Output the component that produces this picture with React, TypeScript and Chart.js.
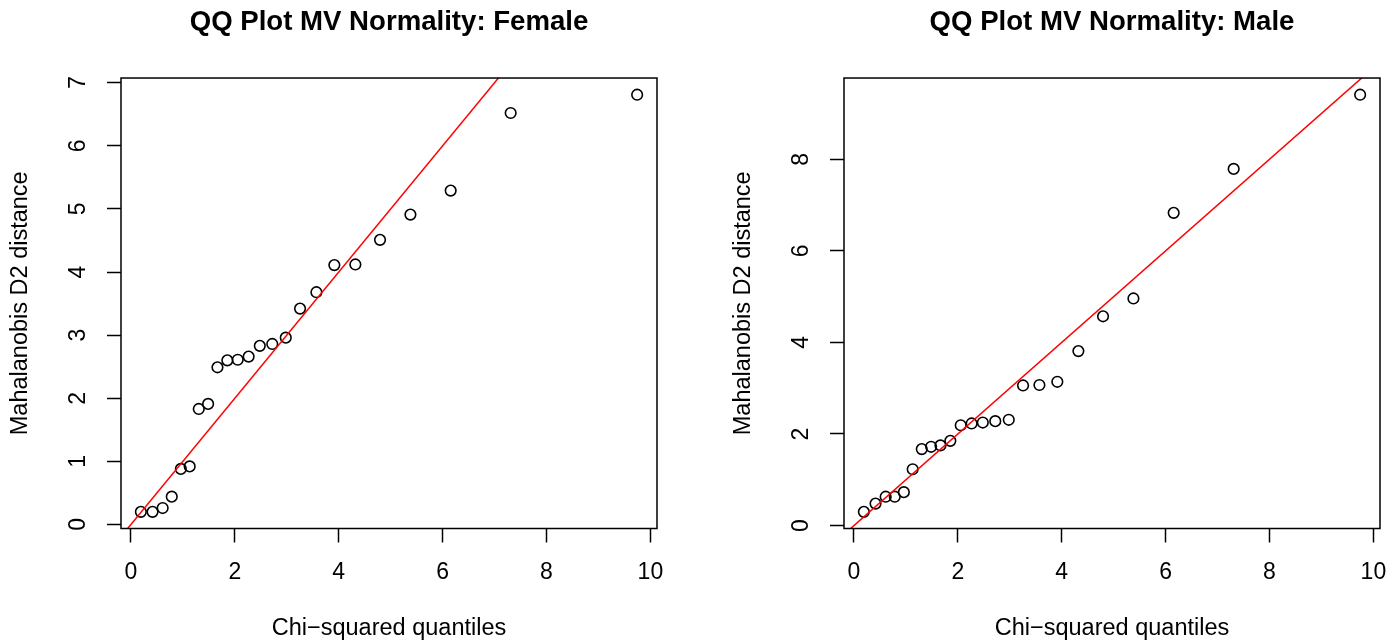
import { useEffect, useRef } from "react";
import { Chart, registerables } from "chart.js";

Chart.register(...registerables);

// Chi-squared quantiles (shared x values, 24 observations)
const chiSqQuantiles = [
  0.19, 0.415, 0.61, 0.785, 0.96, 1.13, 1.305, 1.485, 1.665, 1.855, 2.055, 2.265,
  2.48, 2.72, 2.98, 3.255, 3.57, 3.915, 4.32, 4.795, 5.38, 6.155, 7.31, 9.745,
];

// Sorted Mahalanobis D2 distances
const femaleD2 = [
  0.2, 0.2, 0.26, 0.44, 0.88, 0.92, 1.83, 1.91, 2.49, 2.6, 2.61, 2.66,
  2.83, 2.86, 2.96, 3.42, 3.68, 4.11, 4.12, 4.51, 4.91, 5.29, 6.52, 6.81,
];
const maleD2 = [
  0.3, 0.48, 0.63, 0.63, 0.73, 1.23, 1.67, 1.72, 1.75, 1.85, 2.19, 2.23,
  2.25, 2.28, 2.31, 3.06, 3.07, 3.14, 3.81, 4.57, 4.96, 6.83, 7.79, 9.41,
];

// Reference line y = a + b x (abline(0, 1))
const refIntercept = 0;
const refSlope = 1;
const refLineX = [-1, 12];

const panelTitles = ["QQ Plot MV Normality: Female", "QQ Plot MV Normality: Male"];
const xAxisTitle = "Chi\u2212squared quantiles";
const yAxisTitle = "Mahalanobis D2 distance";
const xTickStep = 2;
const yTickSteps = [1, 2];

const FONT = "'Liberation Sans', Arial, Helvetica, sans-serif";

function rRange(vals: number[]): [number, number] {
  const lo = Math.min(...vals);
  const hi = Math.max(...vals);
  const pad = (hi - lo) * 0.04;
  return [lo - pad, hi + pad];
}

const boxPlugin = {
  id: "rbox",
  afterDraw(chart: any) {
    const { ctx, chartArea: a } = chart;
    ctx.save();
    ctx.strokeStyle = "#000";
    ctx.lineWidth = 1.5;
    ctx.strokeRect(a.left, a.top, a.right - a.left, a.bottom - a.top);
    ctx.restore();
  },
};

function makeConfig(title: string, xs: number[], ys: number[], yStep: number): any {
  const [xmin, xmax] = rRange(xs);
  const [ymin, ymax] = rRange(ys);
  return {
    type: "scatter",
    data: {
      datasets: [
        {
          type: "scatter",
          data: xs.map((x, i) => ({ x, y: ys[i] })),
          pointRadius: 5.3,
          pointHoverRadius: 5.3,
          pointBorderWidth: 1.6,
          borderWidth: 1.6,
          borderColor: "#000",
          backgroundColor: "rgba(0,0,0,0)",
          order: 2,
        },
        {
          type: "line",
          data: refLineX.map((x) => ({ x, y: refIntercept + refSlope * x })),
          borderColor: "#ff0000",
          borderWidth: 1.5,
          pointRadius: 0,
          fill: false,
          tension: 0,
          order: 1,
        },
      ],
    },
    options: {
      animation: false,
      responsive: false,
      events: [],
      layout: { padding: { left: 0, right: 15, top: 0, bottom: 0 } },
      plugins: {
        legend: { display: false },
        tooltip: { enabled: false },
        title: {
          display: true,
          text: title,
          fullSize: false,
          color: "#000",
          font: { family: FONT, size: 27.6, weight: "bold", lineHeight: 1.2 },
          padding: { top: 5.6, bottom: 39.3 },
        },
      },
      scales: {
        x: {
          type: "linear",
          position: "bottom",
          min: xmin,
          max: xmax,
          afterFit: (s: any) => {
            s.height = 113.5;
            s.paddingLeft = 0;
            s.paddingRight = 0;
          },
          border: { display: false },
          grid: {
            display: true,
            drawOnChartArea: false,
            drawTicks: true,
            tickLength: 14,
            tickWidth: 1.5,
            tickColor: "#000",
          },
          ticks: {
            stepSize: xTickStep,
            includeBounds: false,
            autoSkip: false,
            maxRotation: 0,
            color: "#000",
            font: { family: FONT, size: 23, lineHeight: 1.2 },
            padding: 16.2,
          },
          title: {
            display: true,
            text: xAxisTitle,
            color: "#000",
            font: { family: FONT, size: 23.5, lineHeight: 1 },
            padding: { top: 0, bottom: 1.75 },
          },
        },
        y: {
          type: "linear",
          position: "left",
          min: ymin,
          max: ymax,
          afterFit: (s: any) => {
            s.width = 121;
            s.paddingTop = 0;
            s.paddingBottom = 0;
          },
          border: { display: false },
          grid: {
            display: true,
            drawOnChartArea: false,
            drawTicks: true,
            tickLength: 14,
            tickWidth: 1.5,
            tickColor: "#000",
          },
          ticks: {
            stepSize: yStep,
            includeBounds: false,
            autoSkip: false,
            minRotation: 90,
            maxRotation: 90,
            crossAlign: "center",
            color: "#000",
            font: { family: FONT, size: 23, lineHeight: 1.2 },
            padding: 22.3,
          },
          title: {
            display: true,
            text: yAxisTitle,
            color: "#000",
            font: { family: FONT, size: 23.5, lineHeight: 1 },
            padding: { top: 8.65, bottom: 0 },
          },
        },
      },
    },
    plugins: [boxPlugin],
  };
}

function Panel(props: { left: number; title: string; ys: number[]; yStep: number }) {
  const ref = useRef<HTMLCanvasElement | null>(null);
  useEffect(() => {
    if (!ref.current) return;
    const chart = new Chart(ref.current, makeConfig(props.title, chiSqQuantiles, props.ys, props.yStep));
    return () => chart.destroy();
  }, [props.title, props.ys, props.yStep]);
  return (
    <canvas
      ref={ref}
      width={672}
      height={642}
      style={{ position: "absolute", left: props.left, top: 0, width: 672, height: 642, display: "block" }}
    />
  );
}

export default function App() {
  return (
    <div
      style={{
        position: "fixed",
        left: 0,
        top: 0,
        width: 1396,
        height: 642,
        overflow: "hidden",
        background: "#fff",
      }}
    >
      <Panel left={0} title={panelTitles[0]} ys={femaleD2} yStep={yTickSteps[0]} />
      <Panel left={723} title={panelTitles[1]} ys={maleD2} yStep={yTickSteps[1]} />
    </div>
  );
}
